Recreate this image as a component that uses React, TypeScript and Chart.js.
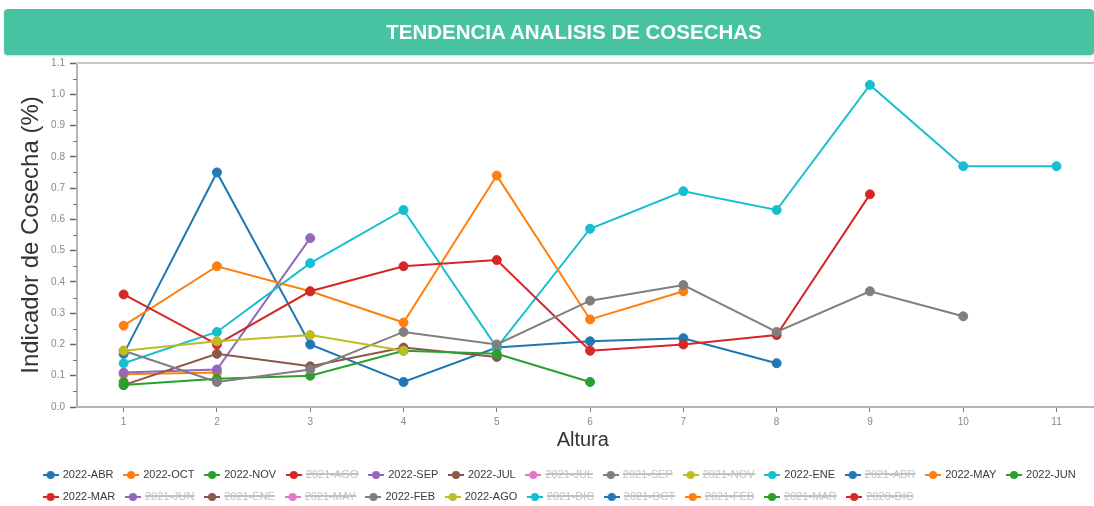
import React, { useEffect, useRef } from 'react';
import { Chart, registerables } from 'chart.js';

Chart.register(...registerables);

const FONT = "'Liberation Sans', Arial, Helvetica, sans-serif";

const TITLE = 'TENDENCIA ANALISIS DE COSECHAS';
const X_TITLE = 'Altura';
const Y_TITLE = 'Indicador de Cosecha (%)';

const X_TICKS = [1, 2, 3, 4, 5, 6, 7, 8, 9, 10, 11];
const Y_TICKS = [0, 0.1, 0.2, 0.3, 0.4, 0.5, 0.6, 0.7, 0.8, 0.9, 1.0, 1.1];
const Y_MINOR = [0.05, 0.15, 0.25, 0.35, 0.45, 0.55, 0.65, 0.75, 0.85, 0.95, 1.05];

// Visible cohorts (value per "Altura" 1, 2, 3, ...)
const ABR_2022 = [0.17, 0.75, 0.2, 0.08, 0.19, 0.21, 0.22, 0.14];
const OCT_2022 = [0.105, 0.11];
const NOV_2022 = [0.08];
const SEP_2022 = [0.11, 0.12, 0.54];
const JUL_2022 = [0.07, 0.17, 0.13, 0.19, 0.16];
const ENE_2022 = [0.14, 0.24, 0.46, 0.63, 0.19, 0.57, 0.69, 0.63, 1.03, 0.77, 0.77];
const MAY_2022 = [0.26, 0.45, 0.37, 0.27, 0.74, 0.28, 0.37];
const JUN_2022 = [0.07, 0.09, 0.1, 0.18, 0.17, 0.08];
const MAR_2022 = [0.36, 0.2, 0.37, 0.45, 0.47, 0.18, 0.2, 0.23, 0.68];
const FEB_2022 = [0.18, 0.08, 0.12, 0.24, 0.2, 0.34, 0.39, 0.24, 0.37, 0.29];
const AGO_2022 = [0.18, 0.21, 0.23, 0.18];
// Hidden cohorts (toggled off in the legend, values not shown)
const HIDDEN_EMPTY: number[] = [];

const SERIES_NAMES = [
  '2022-ABR', '2022-OCT', '2022-NOV', '2021-AGO', '2022-SEP', '2022-JUL', '2021-JUL', '2021-SEP',
  '2021-NOV', '2022-ENE', '2021-ABR', '2022-MAY', '2022-JUN', '2022-MAR', '2021-JUN', '2021-ENE',
  '2021-MAY', '2022-FEB', '2022-AGO', '2021-DIC', '2021-OCT', '2021-FEB', '2021-MAR', '2020-DIC',
];
const SERIES_VALUES = [
  ABR_2022, OCT_2022, NOV_2022, HIDDEN_EMPTY, SEP_2022, JUL_2022, HIDDEN_EMPTY, HIDDEN_EMPTY,
  HIDDEN_EMPTY, ENE_2022, HIDDEN_EMPTY, MAY_2022, JUN_2022, MAR_2022, HIDDEN_EMPTY, HIDDEN_EMPTY,
  HIDDEN_EMPTY, FEB_2022, AGO_2022, HIDDEN_EMPTY, HIDDEN_EMPTY, HIDDEN_EMPTY, HIDDEN_EMPTY, HIDDEN_EMPTY,
];
const HIDDEN_SERIES = [
  '2021-AGO', '2021-JUL', '2021-SEP', '2021-NOV', '2021-ABR', '2021-JUN', '2021-ENE', '2021-MAY',
  '2021-DIC', '2021-OCT', '2021-FEB', '2021-MAR', '2020-DIC',
];
const PALETTE = ['#1f77b4', '#ff7f0e', '#2ca02c', '#d62728', '#9467bd', '#8c564b', '#e377c2', '#7f7f7f', '#bcbd22', '#17becf'];

function makeMarker(color: string) {
  const c = document.createElement('canvas');
  c.width = 16;
  c.height = 10;
  const ctx = c.getContext('2d')!;
  ctx.strokeStyle = color;
  ctx.lineWidth = 2;
  ctx.beginPath();
  ctx.moveTo(0, 5);
  ctx.lineTo(16, 5);
  ctx.stroke();
  ctx.fillStyle = color;
  ctx.beginPath();
  ctx.arc(8, 5, 4, 0, Math.PI * 2);
  ctx.fill();
  return c;
}

export default function App() {
  const ref = useRef<HTMLCanvasElement | null>(null);

  useEffect(() => {
    if (!ref.current) return;
    const colors = SERIES_NAMES.map((_, i) => PALETTE[i % PALETTE.length]);
    const markers = colors.map((c) => makeMarker(c));

    const datasets = SERIES_NAMES.map((name, i) => ({
      label: name,
      data: SERIES_VALUES[i].map((v, j) => ({ x: X_TICKS[j], y: v })),
      borderColor: colors[i],
      backgroundColor: colors[i],
      pointBackgroundColor: colors[i],
      pointBorderColor: colors[i],
      borderWidth: 2,
      pointRadius: 4.5,
      pointBorderWidth: 1,
      tension: 0,
      hidden: HIDDEN_SERIES.includes(name),
      order: -i,
    }));

    const framePlugin = {
      id: 'framePlugin',
      afterLayout(chart: any) {
        const lg = chart.legend;
        if (lg) {
          const h = lg.height;
          lg.left = 33;
          lg.top = 458.5;
          lg.bottom = lg.top + h;
          lg.width = lg.right - lg.left;
        }
      },
      beforeDatasetsDraw(chart: any) {
        const { ctx, chartArea } = chart;
        ctx.save();
        ctx.strokeStyle = '#c9c9c9';
        ctx.lineWidth = 2;
        ctx.beginPath();
        ctx.moveTo(chartArea.left - 1, Math.round(chartArea.top));
        ctx.lineTo(chart.width, Math.round(chartArea.top));
        ctx.stroke();
        ctx.strokeStyle = '#b5b5b5';
        ctx.beginPath();
        ctx.moveTo(chartArea.right - 1, Math.round(chartArea.bottom));
        ctx.lineTo(chart.width, Math.round(chartArea.bottom));
        ctx.stroke();
        ctx.restore();
      },
      afterDraw(chart: any) {
        const { ctx, chartArea } = chart;
        const y = chart.scales.y;
        ctx.save();
        ctx.strokeStyle = '#777';
        ctx.lineWidth = 1;
        Y_MINOR.forEach((v) => {
          const py = Math.round(y.getPixelForValue(v)) + 0.5;
          ctx.beginPath();
          ctx.moveTo(chartArea.left - 4, py);
          ctx.lineTo(chartArea.left, py);
          ctx.stroke();
        });
        ctx.restore();
      },
    };

    const chart = new Chart(ref.current, {
      type: 'line',
      data: { datasets },
      plugins: [framePlugin],
      options: {
        responsive: false,
        animation: false,
        layout: { padding: { top: 63, left: 0, right: 0, bottom: 0 } },
        font: { family: FONT },
        scales: {
          x: {
            type: 'linear',
            min: 0.5,
            max: 11.343,
            afterBuildTicks: (s: any) => {
              s.ticks = X_TICKS.map((v) => ({ value: v }));
            },
            afterFit: (s: any) => {
              s.height = 45;
            },
            ticks: {
              color: '#888',
              font: { size: 10, family: FONT },
              padding: 4,
              callback: (v: any) => String(v),
            },
            grid: { drawOnChartArea: false, drawTicks: true, tickLength: 5, tickColor: '#777' },
            border: { display: true, color: '#b5b5b5', width: 2 },
            title: {
              display: true,
              text: X_TITLE,
              color: '#333',
              font: { size: 20, family: FONT },
              padding: { top: 0, bottom: 0 },
            },
          },
          y: {
            type: 'linear',
            min: 0,
            max: 1.1,
            afterBuildTicks: (s: any) => {
              s.ticks = Y_TICKS.map((v) => ({ value: v }));
            },
            afterFit: (s: any) => {
              s.width = 77;
            },
            ticks: {
              color: '#888',
              font: { size: 10, family: FONT },
              padding: 5,
              callback: (v: any) => Number(v).toFixed(1),
            },
            grid: { drawOnChartArea: false, drawTicks: true, tickLength: 7, tickColor: '#666', tickWidth: 1.5 },
            border: { display: true, color: '#b5b5b5', width: 2 },
            title: {
              display: true,
              text: Y_TITLE,
              color: '#333',
              font: { size: 24, family: FONT },
              padding: { top: 17, bottom: 0 },
            },
          },
        },
        plugins: {
          title: { display: false },
          tooltip: { enabled: false },
          legend: {
            display: true,
            position: 'bottom',
            align: 'start',
            labels: {
              usePointStyle: true,
              pointStyleWidth: 13.2,
              padding: 11,
              color: '#3a3a3a',
              font: { size: 11, family: FONT },
              sort: (a: any, b: any) => a.datasetIndex - b.datasetIndex,
              generateLabels: (c: any) => {
                const items = (Chart.defaults.plugins.legend.labels as any).generateLabels(c);
                return items.map((it: any) => ({
                  ...it,
                  pointStyle: markers[it.datasetIndex],
                  fontColor: it.hidden ? '#c2c2c2' : '#3a3a3a',
                }));
              },
            },
          },
        },
      } as any,
    });

    return () => chart.destroy();
  }, []);

  return (
    <div style={{ position: 'absolute', left: 0, top: 0, width: 1094, height: 506, overflow: 'hidden', background: '#fff' }}>
      <canvas ref={ref} width={1094} height={506} style={{ position: 'absolute', left: 0, top: 0, width: 1094, height: 506 }} />
      <div
        style={{
          position: 'absolute',
          left: 4,
          top: 9,
          width: 1090,
          height: 46,
          boxSizing: 'border-box',
          paddingLeft: 50,
          background: '#48c3a2',
          borderRadius: 4,
          boxShadow: '0 1px 2px rgba(0,0,0,0.18)',
          color: '#fff',
          fontFamily: FONT,
          fontWeight: 'bold',
          fontSize: 20.5,
          lineHeight: '46px',
          textAlign: 'center',
          whiteSpace: 'nowrap',
        }}
      >
        {TITLE}
      </div>
    </div>
  );
}
